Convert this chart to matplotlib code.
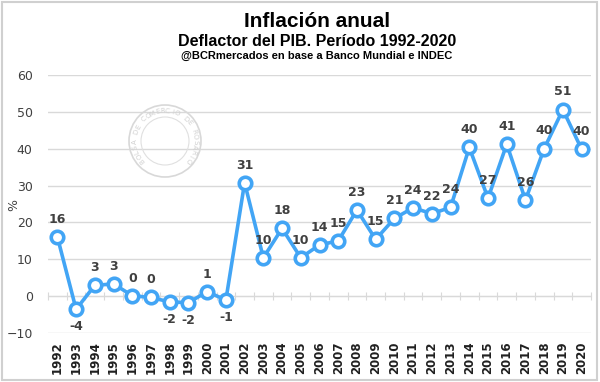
import matplotlib.pyplot as plt
import numpy as np
from matplotlib.patches import Rectangle, Circle

years = [str(y) for y in range(1992, 2021)]
inflation = [16.1, -3.6, 2.9, 3.3, 0.1, -0.4, -1.6, -1.8, 1.2, -1.1,
             30.8, 10.4, 18.4, 10.4, 13.9, 15.0, 23.4, 15.4, 21.1, 24.0,
             22.4, 24.1, 40.4, 26.6, 41.3, 26.1, 40.1, 50.7, 39.9]
yticks = [-10, 0, 10, 20, 30, 40, 50, 60]

title_font = ['Liberation Sans Narrow', 'Liberation Sans', 'DejaVu Sans']
blue = '#42a5f5'

fig = plt.figure(figsize=(6, 3.82), dpi=100)
ax = fig.add_axes([0.08, 0.1288, 0.905, 0.6738])

x = np.arange(len(years))
ax.plot(x, inflation, color=blue, lw=2.6, marker='o', ms=9,
        markerfacecolor='white', markeredgecolor=blue, markeredgewidth=2.6, zorder=3)

for i, v in enumerate(inflation):
    lab = str(int(round(v)))
    if v < -1:
        ax.annotate(lab, (i, v), xytext=(0, -8), textcoords='offset points',
                    ha='center', va='top', fontsize=9, fontweight='bold', color='#404040')
    else:
        ax.annotate(lab, (i, v), xytext=(0, 8), textcoords='offset points',
                    ha='center', va='bottom', fontsize=9, fontweight='bold', color='#404040')

ax.set_xlim(-0.5, len(years) - 0.5)
ax.set_ylim(-10, 60)
ax.set_yticks(yticks)
ax.set_xticks(x)
ax.set_xticklabels(years, rotation=90, fontsize=8.5, fontweight='bold', color='#202020')
ax.tick_params(axis='x', length=0, pad=6)
ax.tick_params(axis='y', length=0, labelsize=9, labelcolor='#404040', pad=11)
ax.grid(axis='y', color='#d9d9d9', lw=1)
ax.set_axisbelow(True)
for s in ax.spines.values():
    s.set_visible(False)
fig.text(14 / 600, 1 - 205 / 382, '%', rotation=90, ha='center', va='center',
         fontsize=9, color='#404040')

# category axis crossing at zero
zero_ax = ax.secondary_xaxis(10 / 70)
zero_ax.set_xticks(np.arange(-0.5, len(years), 1))
zero_ax.set_xticklabels([])
zero_ax.tick_params(direction='inout', length=6, color='#d9d9d9')
zero_ax.spines['bottom'].set_color('#d9d9d9')
zero_ax.spines['top'].set_color('#d9d9d9')

# titles
fig.text(0.528, 0.945, 'Inflación anual', ha='center', va='center', fontsize=15,
         fontweight='bold', family=title_font)
fig.text(0.528, 0.892, 'Deflactor del PIB. Período 1992-2020', ha='center', va='center',
         fontsize=11.5, fontweight='bold', family=title_font)
fig.text(0.528, 0.853, '@BCRmercados en base a Banco Mundial e INDEC', ha='center', va='center',
         fontsize=8, fontweight='bold', family=title_font)

# faint watermark seal
cx, cy, r = 165 / 600, 1 - 141 / 382, 36
fig.add_artist(Circle((165, 382 - 141), r, transform=None, fill=False, ec='#d8d8d8', lw=1.2))
fig.add_artist(Circle((165, 382 - 141), r - 12, transform=None, fill=False, ec='#e0e0e0', lw=0.8))
seal = 'BOLSA DE COMERCIO DE ROSARIO'
angles = np.linspace(220, -40, len(seal))
for ch, a in zip(seal, angles):
    t = np.deg2rad(a)
    fig.text(cx + (r - 6) * np.cos(t) / 600, cy + (r - 6) * np.sin(t) / 382, ch,
             ha='center', va='center', fontsize=5, color='#d0d0d0', rotation=a - 90)

fig.add_artist(Rectangle((0.003, 0.004), 0.992, 0.992, transform=fig.transFigure,
                         fill=False, ec='#d0d0d0', lw=1.5))

fig.savefig('out.png', dpi=100)
